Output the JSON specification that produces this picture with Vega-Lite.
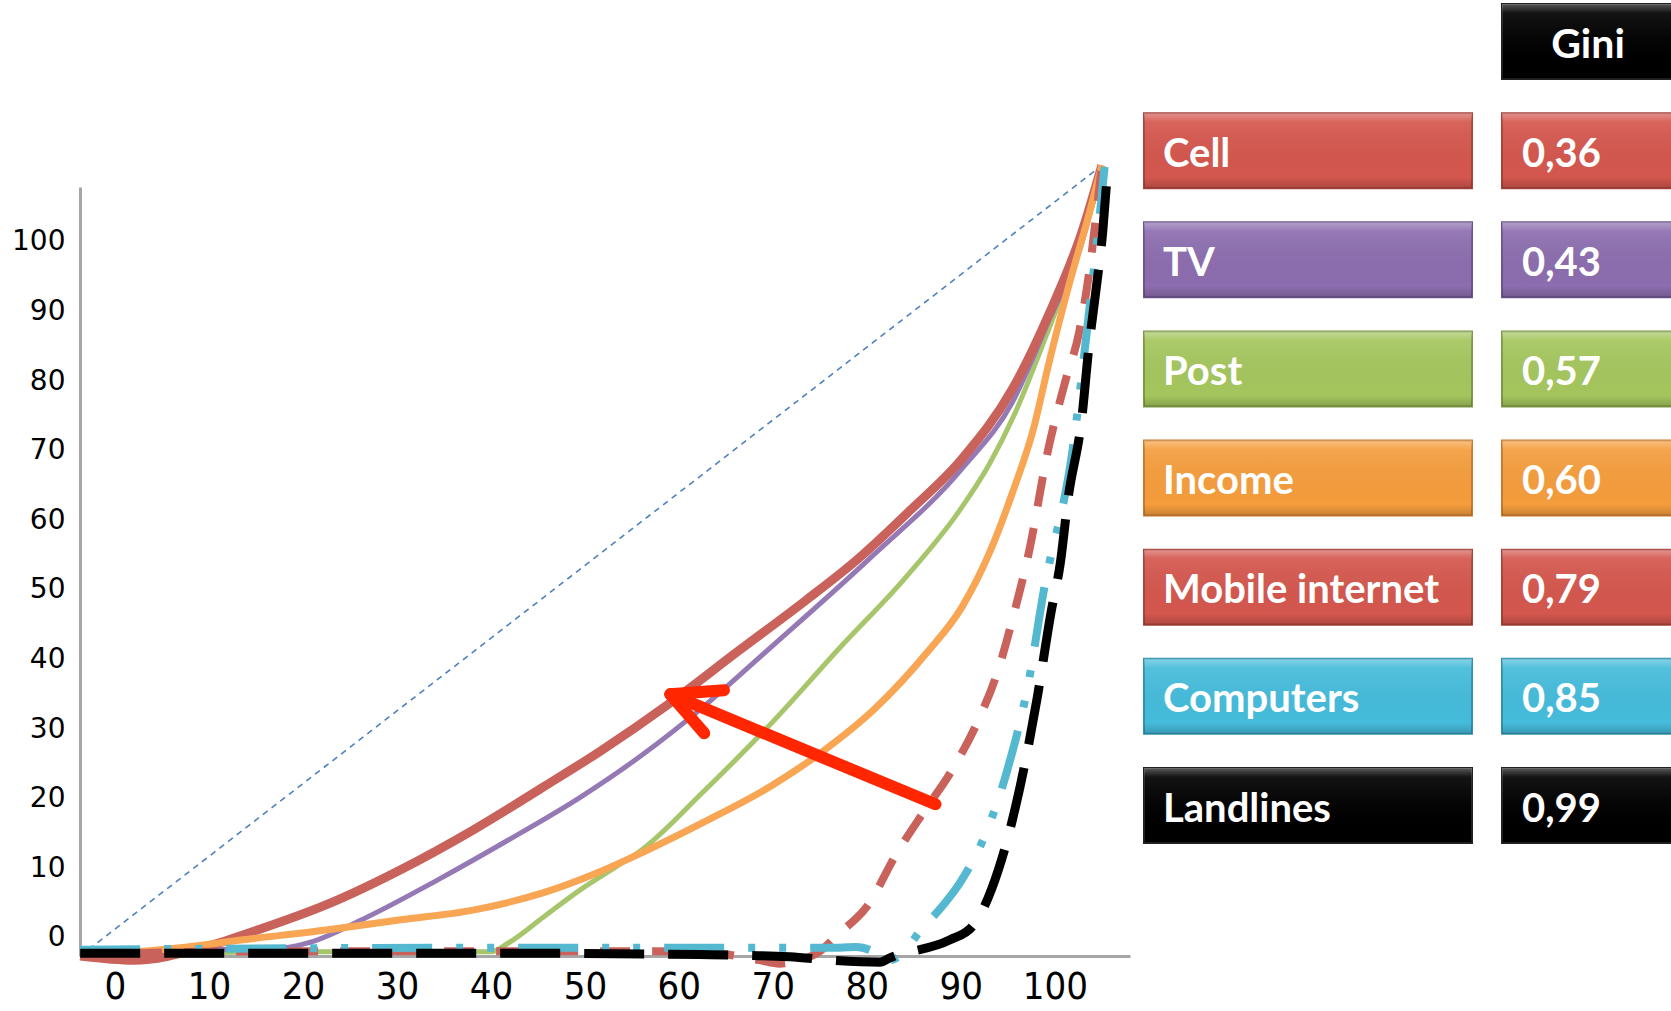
{
  "$schema": "https://vega.github.io/schema/vega-lite/v6.json",
  "padding": 0,
  "background": "white",
  "spacing": 13,
  "config": {"view": {"stroke": null}},
  "datasets": {
    "curves": [
      {"series": "Equality", "x": -3.7, "y": -2.6},
      {"series": "Equality", "x": 105.0, "y": 111.0},

      {"series": "Post", "x": -3.7, "y": -2.6},
      {"series": "Post", "x": 19.7, "y": -2.0},
      {"series": "Post", "x": 40.0, "y": -2.0},
      {"series": "Post", "x": 41.9, "y": -0.7},
      {"series": "Post", "x": 45.6, "y": 3.0},
      {"series": "Post", "x": 49.5, "y": 6.9},
      {"series": "Post", "x": 53.3, "y": 10.2},
      {"series": "Post", "x": 56.0, "y": 12.6},
      {"series": "Post", "x": 62.6, "y": 21.0},
      {"series": "Post", "x": 69.6, "y": 30.5},
      {"series": "Post", "x": 77.2, "y": 41.8},
      {"series": "Post", "x": 84.0, "y": 51.6},
      {"series": "Post", "x": 89.8, "y": 61.3},
      {"series": "Post", "x": 93.0, "y": 68.0},
      {"series": "Post", "x": 95.7, "y": 75.2},
      {"series": "Post", "x": 98.9, "y": 85.9},
      {"series": "Post", "x": 102.6, "y": 99.5},
      {"series": "Post", "x": 105.0, "y": 111.0},

      {"series": "TV", "x": -3.7, "y": -2.6},
      {"series": "TV", "x": 9.0, "y": -1.7},
      {"series": "TV", "x": 17.6, "y": -1.5},
      {"series": "TV", "x": 20.6, "y": -0.7},
      {"series": "TV", "x": 26.7, "y": 2.9},
      {"series": "TV", "x": 34.3, "y": 8.3},
      {"series": "TV", "x": 41.9, "y": 14.1},
      {"series": "TV", "x": 49.5, "y": 20.2},
      {"series": "TV", "x": 55.9, "y": 26.1},
      {"series": "TV", "x": 62.6, "y": 33.2},
      {"series": "TV", "x": 69.9, "y": 41.9},
      {"series": "TV", "x": 80.2, "y": 54.4},
      {"series": "TV", "x": 90.1, "y": 67.4},
      {"series": "TV", "x": 95.5, "y": 77.0},
      {"series": "TV", "x": 99.3, "y": 88.5},
      {"series": "TV", "x": 102.9, "y": 100.0},
      {"series": "TV", "x": 105.0, "y": 111.0},

      {"series": "Cell", "x": -3.7, "y": -2.6},
      {"series": "Cell", "x": 2.0, "y": -3.2},
      {"series": "Cell", "x": 9.6, "y": -1.3},
      {"series": "Cell", "x": 15.3, "y": 1.2},
      {"series": "Cell", "x": 22.9, "y": 5.0},
      {"series": "Cell", "x": 30.4, "y": 9.8},
      {"series": "Cell", "x": 38.1, "y": 15.5},
      {"series": "Cell", "x": 45.6, "y": 21.7},
      {"series": "Cell", "x": 51.6, "y": 26.8},
      {"series": "Cell", "x": 58.9, "y": 33.6},
      {"series": "Cell", "x": 66.3, "y": 41.2},
      {"series": "Cell", "x": 73.6, "y": 48.6},
      {"series": "Cell", "x": 79.0, "y": 54.4},
      {"series": "Cell", "x": 84.5, "y": 61.3},
      {"series": "Cell", "x": 90.1, "y": 68.8},
      {"series": "Cell", "x": 95.5, "y": 78.9},
      {"series": "Cell", "x": 99.3, "y": 89.4},
      {"series": "Cell", "x": 102.9, "y": 101.5},
      {"series": "Cell", "x": 105.0, "y": 111.0},

      {"series": "Income", "x": -3.7, "y": -2.6},
      {"series": "Income", "x": 7.7, "y": -1.3},
      {"series": "Income", "x": 13.4, "y": -0.3},
      {"series": "Income", "x": 22.9, "y": 1.2},
      {"series": "Income", "x": 30.4, "y": 2.6},
      {"series": "Income", "x": 38.1, "y": 4.0},
      {"series": "Income", "x": 45.6, "y": 6.5},
      {"series": "Income", "x": 51.4, "y": 9.4},
      {"series": "Income", "x": 56.0, "y": 12.2},
      {"series": "Income", "x": 62.6, "y": 16.6},
      {"series": "Income", "x": 69.9, "y": 21.9},
      {"series": "Income", "x": 75.4, "y": 26.9},
      {"series": "Income", "x": 80.9, "y": 33.0},
      {"series": "Income", "x": 86.4, "y": 41.0},
      {"series": "Income", "x": 90.1, "y": 47.5},
      {"series": "Income", "x": 93.1, "y": 55.5},
      {"series": "Income", "x": 95.5, "y": 64.0},
      {"series": "Income", "x": 97.8, "y": 73.5},
      {"series": "Income", "x": 99.3, "y": 82.2},
      {"series": "Income", "x": 101.4, "y": 93.3},
      {"series": "Income", "x": 103.6, "y": 103.8},
      {"series": "Income", "x": 105.0, "y": 111.0},

      {"series": "Mobile internet", "x": -3.7, "y": -2.6},
      {"series": "Mobile internet", "x": 9.0, "y": -2.0},
      {"series": "Mobile internet", "x": 30.3, "y": -1.9},
      {"series": "Mobile internet", "x": 51.6, "y": -1.9},
      {"series": "Mobile internet", "x": 62.2, "y": -2.0},
      {"series": "Mobile internet", "x": 68.6, "y": -3.2},
      {"series": "Mobile internet", "x": 70.7, "y": -3.7},
      {"series": "Mobile internet", "x": 72.9, "y": -3.2},
      {"series": "Mobile internet", "x": 74.7, "y": -2.2},
      {"series": "Mobile internet", "x": 77.1, "y": 0.7},
      {"series": "Mobile internet", "x": 80.0, "y": 4.5},
      {"series": "Mobile internet", "x": 83.2, "y": 12.2},
      {"series": "Mobile internet", "x": 86.0, "y": 18.0},
      {"series": "Mobile internet", "x": 89.1, "y": 24.2},
      {"series": "Mobile internet", "x": 91.9, "y": 31.4},
      {"series": "Mobile internet", "x": 94.0, "y": 38.6},
      {"series": "Mobile internet", "x": 95.5, "y": 45.8},
      {"series": "Mobile internet", "x": 97.3, "y": 55.8},
      {"series": "Mobile internet", "x": 99.3, "y": 70.2},
      {"series": "Mobile internet", "x": 101.1, "y": 79.9},
      {"series": "Mobile internet", "x": 102.6, "y": 87.1},
      {"series": "Mobile internet", "x": 103.6, "y": 95.1},
      {"series": "Mobile internet", "x": 104.4, "y": 103.8},
      {"series": "Mobile internet", "x": 105.0, "y": 111.0},

      {"series": "Computers", "x": -3.7, "y": -1.7},
      {"series": "Computers", "x": 41.0, "y": -1.4},
      {"series": "Computers", "x": 77.1, "y": -1.4},
      {"series": "Computers", "x": 78.9, "y": -1.3},
      {"series": "Computers", "x": 81.1, "y": -2.2},
      {"series": "Computers", "x": 82.4, "y": -3.2},
      {"series": "Computers", "x": 84.0, "y": -2.0},
      {"series": "Computers", "x": 85.6, "y": 0.9},
      {"series": "Computers", "x": 88.0, "y": 4.5},
      {"series": "Computers", "x": 89.9, "y": 7.9},
      {"series": "Computers", "x": 92.8, "y": 15.5},
      {"series": "Computers", "x": 94.9, "y": 23.9},
      {"series": "Computers", "x": 97.2, "y": 36.7},
      {"series": "Computers", "x": 98.8, "y": 49.7},
      {"series": "Computers", "x": 101.9, "y": 70.2},
      {"series": "Computers", "x": 103.6, "y": 89.4},
      {"series": "Computers", "x": 104.4, "y": 99.0},
      {"series": "Computers", "x": 105.3, "y": 110.8},

      {"series": "Landlines", "x": -3.7, "y": -2.2},
      {"series": "Landlines", "x": 41.0, "y": -2.2},
      {"series": "Landlines", "x": 62.2, "y": -2.4},
      {"series": "Landlines", "x": 71.8, "y": -2.7},
      {"series": "Landlines", "x": 76.1, "y": -3.2},
      {"series": "Landlines", "x": 81.4, "y": -3.5},
      {"series": "Landlines", "x": 82.4, "y": -2.9},
      {"series": "Landlines", "x": 88.8, "y": -0.3},
      {"series": "Landlines", "x": 91.2, "y": 1.6},
      {"series": "Landlines", "x": 94.0, "y": 9.8},
      {"series": "Landlines", "x": 96.3, "y": 21.7},
      {"series": "Landlines", "x": 98.1, "y": 34.3},
      {"series": "Landlines", "x": 99.6, "y": 46.8},
      {"series": "Landlines", "x": 100.6, "y": 54.0},
      {"series": "Landlines", "x": 101.4, "y": 63.0},
      {"series": "Landlines", "x": 102.9, "y": 75.0},
      {"series": "Landlines", "x": 103.6, "y": 84.6},
      {"series": "Landlines", "x": 104.4, "y": 93.3},
      {"series": "Landlines", "x": 105.1, "y": 101.5},
      {"series": "Landlines", "x": 105.6, "y": 110.2}
    ],
    "arrow": [
      {"x1": 87.3, "y1": 19.2, "x2": 59.1, "y2": 35.0},
      {"x1": 59.1, "y1": 35.0, "x2": 64.8, "y2": 35.6},
      {"x1": 59.1, "y1": 35.0, "x2": 62.7, "y2": 29.4}
    ],
    "legend": [
      {"row": "Gini", "label": "Gini"},
      {"row": "Cell", "label": "0,36"},
      {"row": "TV", "label": "0,43"},
      {"row": "Post", "label": "0,57"},
      {"row": "Income", "label": "0,60"},
      {"row": "Mobile internet", "label": "0,79"},
      {"row": "Computers", "label": "0,85"},
      {"row": "Landlines", "label": "0,99"}
    ]
  },
  "hconcat": [
    {
      "width": 1050,
      "height": 956,
      "layer": [
        {
          "data": {"name": "curves"},
          "encoding": {
            "x": {
              "field": "x", "type": "quantitative",
              "scale": {"domain": [-3.72, 108], "nice": false, "zero": false},
              "axis": {
                "title": null, "values": [0, 10, 20, 30, 40, 50, 60, 70, 80, 90, 100],
                "ticks": false, "grid": false, "domainColor": "#A6A6A6", "domainWidth": 3,
                "labelFont": "Liberation Sans Narrow, DejaVu Sans Condensed, Liberation Sans",
                "labelFontSize": 38, "labelColor": "#000000", "labelPadding": 12,
                "labelFlush": false, "labelOverlap": false
              }
            },
            "y": {
              "field": "y", "type": "quantitative",
              "scale": {"domain": [-2.6, 107.9], "range": [956, 187], "nice": false, "zero": false},
              "axis": {
                "title": null, "values": [0, 10, 20, 30, 40, 50, 60, 70, 80, 90, 100],
                "ticks": false, "grid": false, "domainColor": "#A6A6A6", "domainWidth": 3,
                "labelFont": "DejaVu Sans", "labelFontSize": 28, "labelColor": "#000000",
                "labelPadding": 15, "labelFlush": false, "labelOverlap": false,
                "minExtent": 80, "maxExtent": 80
              }
            },
            "color": {
              "field": "series", "type": "nominal", "legend": null,
              "scale": {
                "domain": ["Equality", "Post", "TV", "Cell", "Income", "Mobile internet", "Computers", "Landlines"],
                "range": ["#4F81BD", "#A7C56A", "#9479B4", "#C9625B", "#F8A554", "#C9625B", "#55B8D1", "#000000"]
              }
            }
          },
          "layer": [
            {
              "transform": [{"filter": "datum.series === 'Equality'"}],
              "mark": {"type": "line", "strokeWidth": 1.6, "strokeDash": [6, 5]}
            },
            {
              "transform": [{"filter": "datum.series === 'Post'"}],
              "mark": {"type": "line", "interpolate": "monotone", "strokeWidth": 5, "strokeJoin": "round"}
            },
            {
              "transform": [{"filter": "datum.series === 'TV'"}],
              "mark": {"type": "line", "interpolate": "monotone", "strokeWidth": 5, "strokeJoin": "round"}
            },
            {
              "transform": [{"filter": "datum.series === 'Cell'"}],
              "mark": {"type": "line", "interpolate": "monotone", "strokeWidth": 9, "strokeJoin": "round"}
            },
            {
              "transform": [{"filter": "datum.series === 'Income'"}],
              "mark": {"type": "line", "interpolate": "monotone", "strokeWidth": 7, "strokeJoin": "round"}
            },
            {
              "transform": [{"filter": "datum.series === 'Mobile internet'"}],
              "mark": {"type": "line", "interpolate": "monotone", "strokeWidth": 8, "strokeDash": [30, 22], "strokeCap": "butt"}
            },
            {
              "transform": [{"filter": "datum.series === 'Computers'"}],
              "mark": {"type": "line", "interpolate": "monotone", "strokeWidth": 8, "strokeDash": [60, 24, 7, 24, 7, 24], "strokeCap": "butt"}
            },
            {
              "transform": [{"filter": "datum.series === 'Landlines'"}],
              "mark": {"type": "line", "interpolate": "monotone", "strokeWidth": 9, "strokeDash": [60, 24], "strokeCap": "butt"}
            }
          ]
        },
        {
          "data": {"name": "arrow"},
          "mark": {"type": "rule", "color": "#FF2600", "strokeWidth": 12, "strokeCap": "round"},
          "encoding": {
            "x": {"field": "x1", "type": "quantitative", "title": null},
            "y": {"field": "y1", "type": "quantitative", "title": null},
            "x2": {"field": "x2"},
            "y2": {"field": "y2"}
          }
        }
      ]
    },
    {
      "spacing": 28,
      "hconcat": [
        {
          "width": 328,
          "height": 847,
          "data": {"name": "legend"},
          "transform": [{"filter": "datum.row !== 'Gini'"}],
          "encoding": {
            "y": {
              "field": "row", "type": "nominal", "axis": null,
              "scale": {
                "domain": ["Gini", "Cell", "TV", "Post", "Income", "Mobile internet", "Computers", "Landlines"],
                "paddingInner": 0.313, "paddingOuter": 0.0366
              }
            }
          },
          "layer": [
            {
              "mark": {"type": "rect", "strokeWidth": 2},
              "encoding": {
                "fill": {
                  "field": "row", "type": "nominal", "legend": null,
                  "scale": {
                    "domain": ["Gini", "Cell", "TV", "Post", "Income", "Mobile internet", "Computers", "Landlines"],
                    "range": ["#000000", "#D4574E", "#8C6DAF", "#A5C65E", "#F59D3D", "#D4574E", "#45BCDB", "#000000"]
                  }
                },
                "stroke": {
                  "field": "row", "type": "nominal", "legend": null,
                  "scale": {
                    "domain": ["Gini", "Cell", "TV", "Post", "Income", "Mobile internet", "Computers", "Landlines"],
                    "range": ["#222222", "#A8423B", "#6E5390", "#7E9A45", "#C97A2A", "#A8423B", "#2F93AE", "#222222"]
                  }
                }
              }
            },
            {
              "mark": {
                "type": "rect",
                "fill": {
                  "gradient": "linear", "x1": 0, "y1": 0, "x2": 0, "y2": 1,
                  "stops": [
                    {"offset": 0, "color": "rgba(255,255,255,0.35)"},
                    {"offset": 0.12, "color": "rgba(255,255,255,0.08)"},
                    {"offset": 0.85, "color": "rgba(0,0,0,0)"},
                    {"offset": 1, "color": "rgba(0,0,0,0.18)"}
                  ]
                }
              }
            },
            {
              "mark": {"type": "text", "align": "left", "baseline": "middle", "font": "Lato", "fontWeight": "bold", "fontSize": 40, "color": "#FFFFFF", "dx": 19, "dy": 4},
              "encoding": {
                "x": {"datum": 0, "type": "quantitative", "scale": {"domain": [0, 1]}, "axis": null},
                "text": {"field": "row"}
              }
            }
          ]
        },
        {
          "width": 172,
          "height": 847,
          "data": {"name": "legend"},
          "encoding": {
            "y": {
              "field": "row", "type": "nominal", "axis": null,
              "scale": {
                "domain": ["Gini", "Cell", "TV", "Post", "Income", "Mobile internet", "Computers", "Landlines"],
                "paddingInner": 0.313, "paddingOuter": 0.0366
              }
            }
          },
          "layer": [
            {
              "mark": {"type": "rect", "strokeWidth": 2},
              "encoding": {
                "fill": {
                  "field": "row", "type": "nominal", "legend": null,
                  "scale": {
                    "domain": ["Gini", "Cell", "TV", "Post", "Income", "Mobile internet", "Computers", "Landlines"],
                    "range": ["#000000", "#D4574E", "#8C6DAF", "#A5C65E", "#F59D3D", "#D4574E", "#45BCDB", "#000000"]
                  }
                },
                "stroke": {
                  "field": "row", "type": "nominal", "legend": null,
                  "scale": {
                    "domain": ["Gini", "Cell", "TV", "Post", "Income", "Mobile internet", "Computers", "Landlines"],
                    "range": ["#222222", "#A8423B", "#6E5390", "#7E9A45", "#C97A2A", "#A8423B", "#2F93AE", "#222222"]
                  }
                }
              }
            },
            {
              "mark": {
                "type": "rect",
                "fill": {
                  "gradient": "linear", "x1": 0, "y1": 0, "x2": 0, "y2": 1,
                  "stops": [
                    {"offset": 0, "color": "rgba(255,255,255,0.35)"},
                    {"offset": 0.12, "color": "rgba(255,255,255,0.08)"},
                    {"offset": 0.85, "color": "rgba(0,0,0,0)"},
                    {"offset": 1, "color": "rgba(0,0,0,0.18)"}
                  ]
                }
              }
            },
            {
              "transform": [{"filter": "datum.row !== 'Gini'"}],
              "mark": {"type": "text", "align": "left", "baseline": "middle", "font": "Lato", "fontWeight": "bold", "fontSize": 40, "color": "#FFFFFF", "dx": 20, "dy": 4},
              "encoding": {
                "x": {"datum": 0, "type": "quantitative", "scale": {"domain": [0, 1]}, "axis": null},
                "text": {"field": "label"}
              }
            },
            {
              "transform": [{"filter": "datum.row === 'Gini'"}],
              "mark": {"type": "text", "align": "center", "baseline": "middle", "font": "Lato", "fontWeight": "bold", "fontSize": 41, "color": "#FFFFFF", "dy": 5},
              "encoding": {
                "x": {"datum": 0.5, "type": "quantitative", "scale": {"domain": [0, 1]}, "axis": null},
                "text": {"field": "label"}
              }
            }
          ]
        }
      ]
    }
  ]
}
